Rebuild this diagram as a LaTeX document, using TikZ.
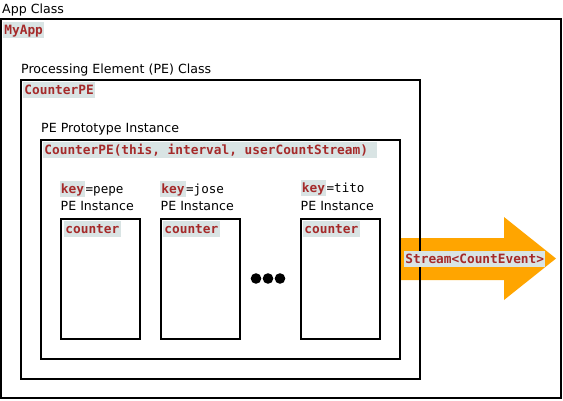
\documentclass[tikz,border=0pt]{standalone}
\usepackage{fontspec}
\setmainfont{DejaVu Sans}
\setmonofont{DejaVu Sans Mono}
\usepackage{tikz}

\definecolor{codered}{HTML}{A52A2A}
\definecolor{codebg}{HTML}{D9E4E4}
\definecolor{streamorange}{HTML}{FFA500}

\begin{document}
\begin{tikzpicture}[x=1pt,y=-1pt,
  box/.style={draw, line width=2pt},
  lbl/.style={anchor=base west, inner sep=0pt, font=\fontsize{12.6}{15}\selectfont},
  code/.style={anchor=base west, inner sep=1.2pt, text height=11.1pt, text depth=2.5pt,
    fill=codebg, text=codered, font=\fontsize{12.8}{15}\selectfont\ttfamily\bfseries}]

  \useasboundingbox (0,0) rectangle (563,400);

  % outgoing stream
  \coordinate (s1) at (401,238);
  \coordinate (s2) at (504,238);
  \coordinate (s3) at (504,217);
  \coordinate (s4) at (556,258.5);
  \coordinate (s5) at (504,300);
  \coordinate (s6) at (504,280);
  \coordinate (s7) at (401,280);
  \fill[streamorange] (s1) -- (s2) -- (s3) -- (s4) -- (s5) -- (s6) -- (s7) -- cycle;

  % nested boxes
  \draw[box] (1,19) rectangle (561,398);
  \draw[box] (21,79.5) rectangle (420,378.5);
  \draw[box] (41,140) rectangle (400,358.5);

  \node[lbl] (appl) at (2,13) {App Class};
  \node[code] (app) at (3,34) {MyApp};
  \node[lbl] (pel) at (21,73.5) {Processing Element (PE) Class};
  \node[code] (pe) at (23,94) {CounterPE};
  \node[lbl] (protol) at (41,132.5) {PE Prototype Instance};
  \node[code] (proto) at (43,154) {CounterPE(this, interval, userCountStream)\ \null};

  % instances
  \draw[box] (61,219) rectangle (140,339);
  \node[code] (k1) at (59.5,193) {key};
  \node[lbl] at (k1.base east) {\ttfamily =pepe};
  \node[lbl] (i1) at (60.5,210.5) {PE Instance};
  \node[code] (c1) at (64,233.5) {counter};

  \draw[box] (161,219) rectangle (240,339);
  \node[code] (k2) at (160,193) {key};
  \node[lbl] at (k2.base east) {\ttfamily =jose};
  \node[lbl] (i2) at (160.5,210.5) {PE Instance};
  \node[code] (c2) at (163,233.5) {counter};

  \draw[box] (301,219) rectangle (380,339);
  \node[code] (k3) at (300.5,192) {key};
  \node[lbl] at (k3.base east) {\ttfamily =tito};
  \node[lbl] (i3) at (300.5,210.5) {PE Instance};
  \node[code] (c3) at (303,233.5) {counter};

  \fill (256,278.5) circle (5.3) (268,278.5) circle (5.3) (280,278.5) circle (5.3);

  \node[code] (stream) at (404,263.5) {Stream<CountEvent>};

\end{tikzpicture}
\end{document}
